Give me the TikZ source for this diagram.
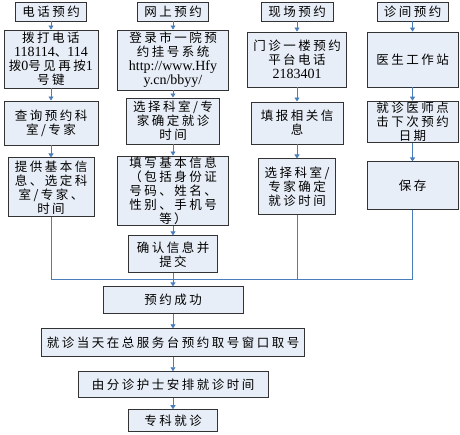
\documentclass[tikz,border=0pt]{standalone}
\usepackage{fontspec}
\setmainfont{Liberation Serif}
\newfontfamily\cjk[LetterSpace=20]{Noto Sans CJK SC}
\usetikzlibrary{arrows.meta}
\definecolor{boxfill}{HTML}{E8EEF7}
\definecolor{flowblue}{HTML}{4A7EBB}
\newcommand{\latn}[1]{{\rmfamily\fontsize{14}{14}\selectfont #1}}
\begin{document}
\begin{tikzpicture}[x=1pt, y=-1pt,
		procbox/.style={rectangle, draw=black!80, line width=0.8pt, fill=boxfill,
		inner sep=1pt, align=center, font=\cjk\fontsize{12.5}{14}\selectfont},
		headbox/.style={procbox, minimum width=71pt, minimum height=19pt},
		flow/.style={draw=flowblue, line width=0.8pt, -{Triangle[width=5pt,length=4pt]}},
		joinline/.style={draw=flowblue, line width=0.8pt}
		]
		\useasboundingbox (0,0) rectangle (460,434);
		
		% headers
		\node[headbox](h1) at (51,11.5){电话预约};
		\node[headbox](h2) at (173,11.5){网上预约};
		\node[headbox, minimum width=72pt](h3) at (297,11.5){现场预约};
		\node[headbox](h4) at (412.5,11.5){诊间预约};
		
		% telephone
		\node[procbox, minimum width=94pt, minimum height=58pt, below of = h1, yshift = -19pt](a2)
		{拨打电话\\\latn{118114}、\latn{114}\\拨\latn{0}号见再按\latn{1}\\号键};
		\node[procbox, minimum width=94pt, minimum height=44pt, below of = a2, yshift = -35.5pt](a3)
		{查询预约科\\室/专家};
		\node[procbox, minimum width=86pt, minimum height=59pt, below of = a3, yshift = -36pt](a4)
		{提供基本信\\息、选定科\\室/专家、\\时间};
		
		% online
		\node[procbox, minimum width=111pt, minimum height=60pt, below of = h2, yshift = -20pt](b2)
		{登录市一院预\\约挂号系统\\\latn{http://www.Hfy}\\\latn{y.cn/bbyy/}};
		\node[procbox, minimum width=93pt, minimum height=46pt, below of = b2, yshift = -32.5pt](b3)
		{选择科室/专\\家确定就诊\\时间};
		\node[procbox, minimum width=111pt, minimum height=64pt, below of = b3, yshift = -41.5pt](b4)
		{填写基本信息\\（包括身份证\\号码、姓名、\\性别、手机号\\等）};
		\node[procbox, minimum width=89pt, minimum height=37pt, below of = b4, yshift = -35pt](b5)
		{确认信息并\\提交};
		
		% on site
		\node[procbox, minimum width=99pt, minimum height=55pt, below of = h3, yshift = -19.5pt](c2)
		{门诊一楼预约\\平台电话\\\latn{2183401}};
		\node[procbox, minimum width=92pt, minimum height=42pt, below of = c2, yshift = -35pt](c3)
		{填报相关信\\息};
		\node[procbox, minimum width=77pt, minimum height=56pt, below of = c3, yshift = -35.5pt](c4)
		{选择科室/\\专家确定\\就诊时间};
		
		% clinic
		\node[procbox, minimum width=91pt, minimum height=55pt, below of = h4, yshift = -19.5pt](d2)
		{医生工作站};
		\node[procbox, minimum width=91pt, minimum height=40pt, below of = d2, yshift = -34pt](d3)
		{就诊医师点\\击下次预约\\日期};
		\node[procbox, minimum width=91pt, minimum height=48pt, below of = d3, yshift = -35.5pt](d4)
		{保存};
		
		% common steps
		\coordinate (m) at (173,279);
		\node[procbox, minimum width=140pt, minimum height=27pt, below of = b5, yshift = -17.5pt](e1)
		{预约成功};
		\node[procbox, minimum width=263pt, minimum height=28pt, below of = e1, yshift = -14pt](e2)
		{就诊当天在总服务台预约取号窗口取号};
		\node[procbox, minimum width=190pt, minimum height=26pt, below of = e2, yshift = -13.5pt](e3)
		{由分诊护士安排就诊时间};
		\node[procbox, minimum width=89pt, minimum height=22pt, below of = e3, yshift = -7.5pt](e4)
		{专科就诊};
		
		\draw[flow] (h1) -- (a2);
		\draw[flow] (a2) -- (a3);
		\draw[flow] (a3) -- (a4);
		\draw[flow] (h2) -- (b2);
		\draw[flow] (b2) -- (b3);
		\draw[flow] (b3) -- (b4);
		\draw[flow] (b4) -- (b5);
		\draw[flow] (h3) -- (c2);
		\draw[flow] (c2) -- (c3);
		\draw[flow] (c3) -- (c4);
		\draw[flow] (h4) -- (d2);
		\draw[flow] (d2) -- (d3);
		\draw[flow] (d3) -- (d4);
		\draw[joinline] (a4) |- (m);
		\draw[joinline] (c4) |- (m);
		\draw[joinline] (d4) |- (m);
		\draw[flow] (b5) -- (e1);
		\draw[flow] (e1) -- (e2);
		\draw[flow] (e2) -- (e3);
		\draw[flow] (e3) -- (e4);
	\end{tikzpicture}
\end{document}
